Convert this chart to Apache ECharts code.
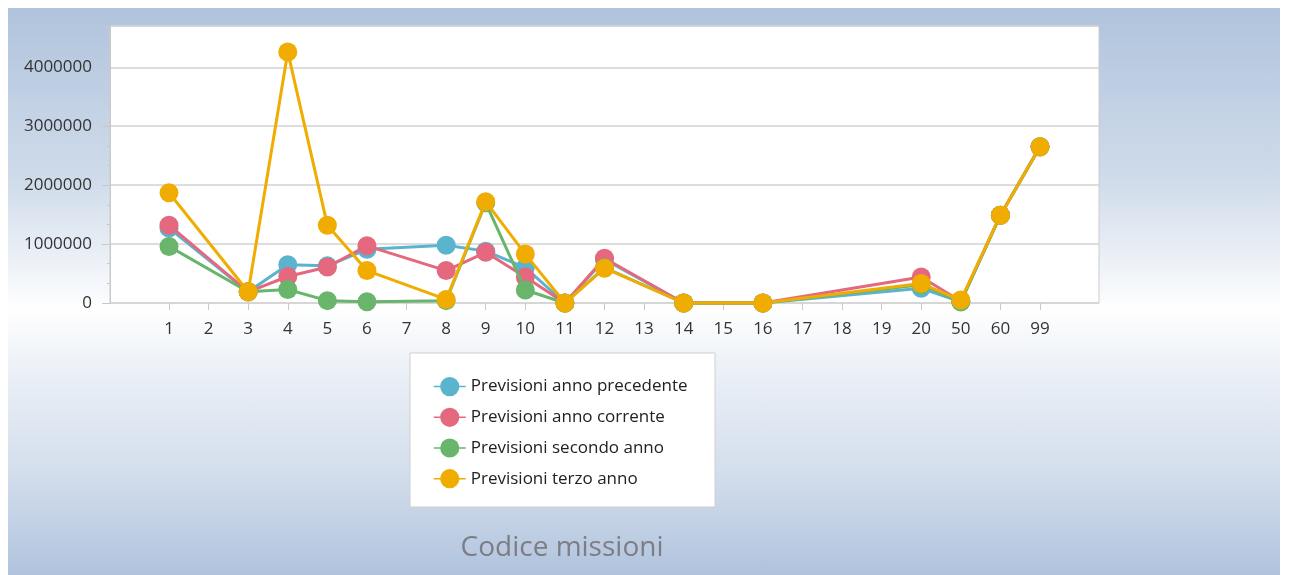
<!DOCTYPE html>
<html>
<head>
<meta charset="utf-8">
<script src="https://cdn.jsdelivr.net/npm/echarts@6/dist/echarts.min.js"></script>
<style>
  html, body { margin: 0; padding: 0; background: #fff; }
  #chart {
    width: 1290px;
    height: 575px;
    background: linear-gradient(to bottom, #b1c4dd 0%, #cfdbea 30%, #f7f9fc 50%, #ffffff 53%, #eef2f8 62%, #d3deec 82%, #b0c3dd 100%) no-repeat;
    background-position: 8px 8px;
    background-size: 1272px 567px;
  }
</style>
</head>
<body>
<div id="chart"></div>
<script>
const categories = ["1", "2", "3", "4", "5", "6", "7", "8", "9", "10", "11", "12", "13", "14", "15", "16", "17", "18", "19", "20", "50", "60", "99"];

// codici:             1        2     3       4        5        6        7     8        9        10      11     12      13    14  15    16  17    18    19    20      50     60       99
const annoPrecedente = [1270000, null, 190000, 650000, 630000, 910000, null, 980000, 880000, 600000, 0, 740000, null, 0, null, 0, null, null, null, 250000, 20000, 1490000, 2650000];
const annoCorrente   = [1320000, null, 190000, 450000, 610000, 970000, null, 550000, 860000, 440000, 0, 760000, null, 0, null, 0, null, null, null, 440000, 30000, 1490000, 2650000];
const secondoAnno    = [960000, null, 190000, 230000, 40000, 20000, null, 40000, 1700000, 220000, 0, 600000, null, 0, null, 0, null, null, null, 310000, 20000, 1490000, 2650000];
const terzoAnno      = [1870000, null, 190000, 4260000, 1320000, 550000, null, 60000, 1720000, 830000, 0, 590000, null, 0, null, 0, null, null, null, 330000, 50000, 1490000, 2650000];

const seriesNames = ["Previsioni anno precedente", "Previsioni anno corrente", "Previsioni secondo anno", "Previsioni terzo anno"];
const seriesData = [annoPrecedente, annoCorrente, secondoAnno, terzoAnno];
const colors = ["#5ab4cd", "#e4687e", "#68b56b", "#f0ac00"];

const yMax = 4700000;
const yStep = 1000000;

const chart = echarts.init(document.getElementById("chart"), null, { renderer: "canvas" });

chart.setOption({
  animation: false,
  textStyle: { fontFamily: "Open Sans" },
  grid: [
    { left: 110, top: 26, width: 989, height: 277, show: true, backgroundColor: "#fff", borderColor: "#cccccc", borderWidth: 1 },
    { left: 169, top: 26, width: 871, height: 277 }
  ],
  xAxis: [
    { gridIndex: 0, type: "value", min: 0, max: 1, show: false },
    {
      gridIndex: 1,
      type: "category",
      data: categories,
      boundaryGap: false,
      axisLine: { show: false },
      axisTick: { show: true, length: 7, lineStyle: { color: "#c8c8c8" } },
      axisLabel: { color: "#333", fontSize: 17, margin: 18, interval: 0 },
      splitLine: { show: false }
    }
  ],
  yAxis: [
    {
      gridIndex: 0,
      type: "value",
      min: 0,
      max: yMax,
      interval: yStep,
      axisLine: { show: true, lineStyle: { color: "#c8c8c8" } },
      axisTick: { show: true, length: 8, lineStyle: { color: "#c8c8c8" } },
      minorTick: { show: true, splitNumber: 3, length: 3, lineStyle: { color: "#c8c8c8" } },
      axisLabel: { color: "#333", fontSize: 17, margin: 18, showMaxLabel: false, formatter: (v) => String(v) },
      splitLine: { show: true, lineStyle: { color: "#d2d2d2", width: 1.5 } }
    },
    { gridIndex: 1, type: "value", min: 0, max: yMax, show: false }
  ],
  legend: {
    orient: "vertical",
    left: 428,
    top: 372,
    itemWidth: 32,
    itemHeight: 24,
    itemGap: 11.5,
    selectedMode: false,
    data: seriesNames,
    lineStyle: { width: 1.5 },
    textStyle: { color: "#222", fontSize: 17, fontFamily: "Open Sans" }
  },
  graphic: [
    {
      type: "rect",
      z: -1,
      shape: { x: 410, y: 353, width: 305, height: 154 },
      style: { fill: "#fff", stroke: "#cfcfcf", lineWidth: 1 }
    },
    {
      type: "text",
      x: 562,
      y: 548,
      style: {
        text: "Codice missioni",
        fill: "#7b7e85",
        font: "28px 'Open Sans'",
        textAlign: "center",
        textVerticalAlign: "middle"
      }
    }
  ],
  series: seriesNames.map((name, i) => ({
    name: name,
    type: "line",
    xAxisIndex: 1,
    yAxisIndex: 1,
    data: seriesData[i],
    connectNulls: true,
    symbol: "circle",
    symbolSize: 19,
    showAllSymbol: true,
    clip: false,
    lineStyle: { color: colors[i], width: 3 },
    itemStyle: { color: colors[i] },
    z: 2 + i
  }))
});
</script>
</body>
</html>
